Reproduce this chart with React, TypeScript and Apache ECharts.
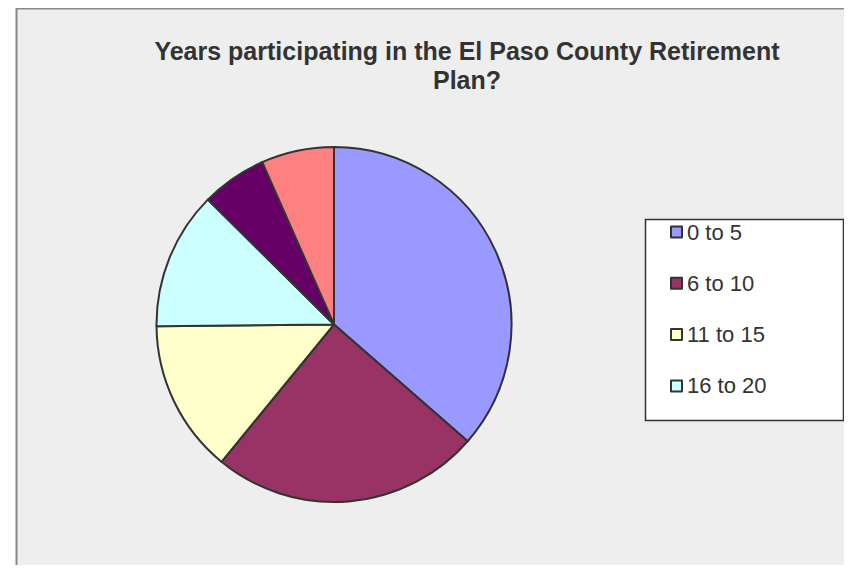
import React, { useEffect, useRef } from "react";
import * as echarts from "echarts";

const categories = ["0 to 5", "6 to 10", "11 to 15", "16 to 20", "21 to 25", "Over 25"];
const counts = [55, 37, 21, 19, 9, 10];
const colors = ["#9999FF", "#993366", "#FFFFCC", "#CCFFFF", "#660066", "#FF8080"];
const legendItems = ["0 to 5", "6 to 10", "11 to 15", "16 to 20"];
const titleText = "Years participating in the El Paso County Retirement\nPlan?";

export default function App() {
  const ref = useRef<HTMLDivElement>(null);
  useEffect(() => {
    if (!ref.current) return;
    const chart = echarts.init(ref.current, null, { renderer: "svg" });
    chart.setOption({
      animation: false,
      backgroundColor: "#ffffff",
      graphic: [
        {
          type: "rect",
          shape: { x: 16.5, y: 8.5, width: 832, height: 600 },
          style: { fill: "#EEEEEE", stroke: "#888888", lineWidth: 2 },
          z: -10,
        },
        {
          type: "rect",
          shape: { x: 645.5, y: 219.5, width: 198, height: 201 },
          style: { fill: "#FFFFFF", stroke: "#333333", lineWidth: 1.5 },
          z: 0,
        },
      ],
      title: {
        text: titleText,
        left: 462,
        top: 31,
        textAlign: "center",
        textStyle: {
          fontFamily: "Liberation Sans, Arial, sans-serif",
          fontSize: 25,
          fontWeight: "bold",
          color: "#333333",
          lineHeight: 29,
        },
      },
      legend: {
        data: legendItems,
        orient: "vertical",
        left: 670,
        top: 221,
        padding: 0,
        itemWidth: 11,
        itemHeight: 11,
        itemGap: 29.3,
        icon: "rect",
        textStyle: {
          fontFamily: "Liberation Sans, Arial, sans-serif",
          fontSize: 22,
          color: "#333333",
          lineHeight: 21,
        },
        z: 5,
      },
      series: [
        {
          type: "pie",
          center: [334, 324.5],
          radius: 177.5,
          startAngle: 90,
          clockwise: true,
          label: { show: false },
          labelLine: { show: false },
          emphasis: { disabled: true },
          itemStyle: { borderColor: "#333333", borderWidth: 2 },
          data: categories.map((name, i) => ({
            name,
            value: counts[i],
            itemStyle: { color: colors[i] },
          })),
        },
      ],
    });
    return () => chart.dispose();
  }, []);
  return <div ref={ref} style={{ width: 852, height: 573, margin: -8 }} />;
}
